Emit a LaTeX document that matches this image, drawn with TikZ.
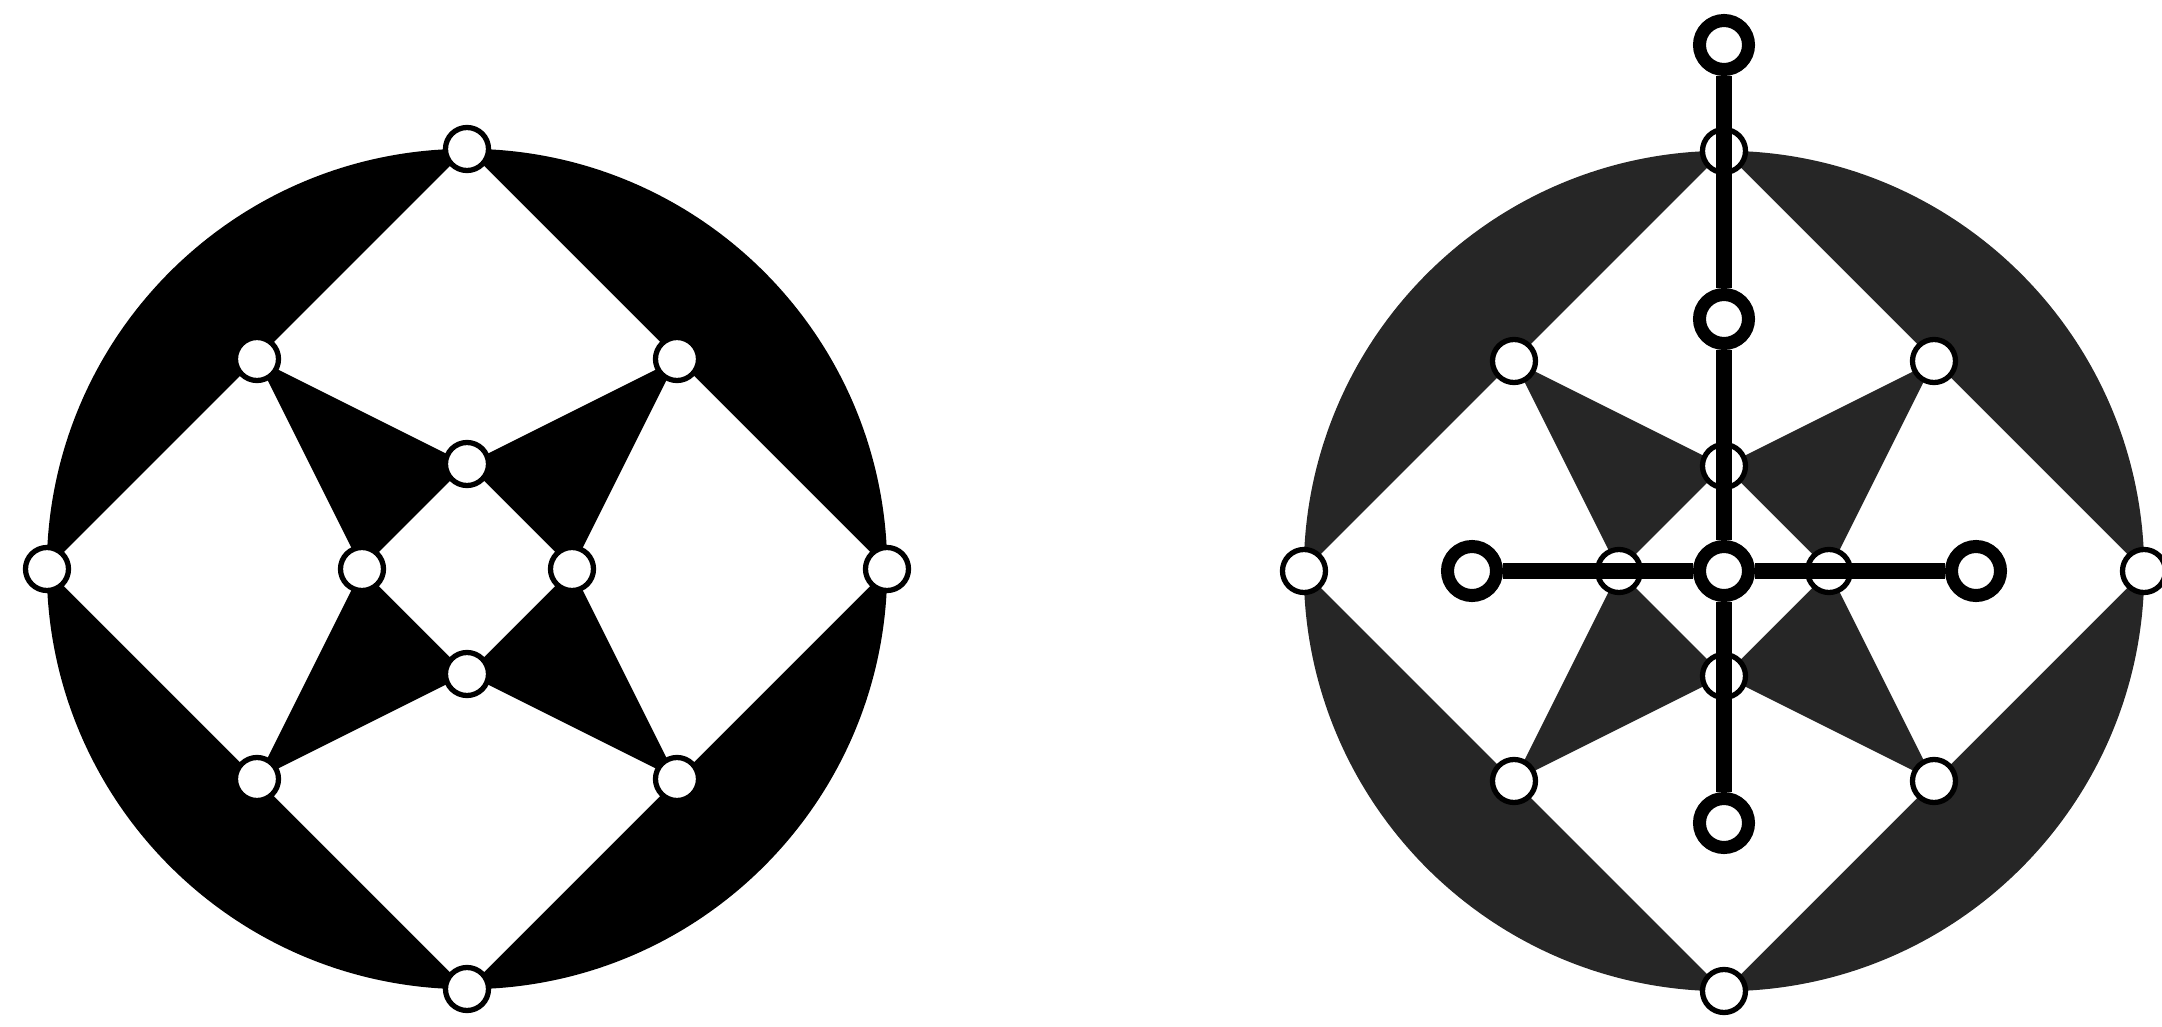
\documentclass[tikz,border=0pt]{standalone}
\usetikzlibrary{calc,backgrounds}

\begin{document}
\begin{tikzpicture}[
  x=0.01cm, y=-0.01cm,
  vtx/.style={circle, draw, fill=white, line width=1.5pt, minimum size=0.43cm, inner sep=0pt},
  hub/.style={circle, draw, fill=white, line width=3.7pt, minimum size=0.49cm, inner sep=0pt},
  bar/.style={line width=4.8pt},
  shade/.style={fill=black!85}
]
\useasboundingbox (0,0) rectangle (2162,1027);

% left wheel
\coordinate (L) at (467,569);
\node[vtx] (lN) at ($(L)+(0,-420)$) {};
\node[vtx] (lE) at ($(L)+(420,0)$) {};
\node[vtx] (lS) at ($(L)+(0,420)$) {};
\node[vtx] (lW) at ($(L)+(-420,0)$) {};
\node[vtx] (lNW) at ($(L)+(-210,-210)$) {};
\node[vtx] (lNE) at ($(L)+(210,-210)$) {};
\node[vtx] (lSE) at ($(L)+(210,210)$) {};
\node[vtx] (lSW) at ($(L)+(-210,210)$) {};
\node[vtx] (liN) at ($(L)+(0,-105)$) {};
\node[vtx] (liE) at ($(L)+(105,0)$) {};
\node[vtx] (liS) at ($(L)+(0,105)$) {};
\node[vtx] (liW) at ($(L)+(-105,0)$) {};

% right wheel
\coordinate (R) at (1724,571);
\node[vtx] (rN) at ($(R)+(0,-420)$) {};
\node[vtx] (rE) at ($(R)+(420,0)$) {};
\node[vtx] (rS) at ($(R)+(0,420)$) {};
\node[vtx] (rW) at ($(R)+(-420,0)$) {};
\node[vtx] (rNW) at ($(R)+(-210,-210)$) {};
\node[vtx] (rNE) at ($(R)+(210,-210)$) {};
\node[vtx] (rSE) at ($(R)+(210,210)$) {};
\node[vtx] (rSW) at ($(R)+(-210,210)$) {};
\node[vtx] (riN) at ($(R)+(0,-105)$) {};
\node[vtx] (riE) at ($(R)+(105,0)$) {};
\node[vtx] (riS) at ($(R)+(0,105)$) {};
\node[vtx] (riW) at ($(R)+(-105,0)$) {};

% cross on the right wheel
\node[hub] (cTop) at ($(R)+(0,-526)$) {};
\node[hub] (cUp) at ($(R)+(0,-252)$) {};
\node[hub] (cMid) at (R) {};
\node[hub] (cDown) at ($(R)+(0,252)$) {};
\node[hub] (cLeft) at ($(R)+(-252,0)$) {};
\node[hub] (cRight) at ($(R)+(252,0)$) {};

\draw[bar] (cTop) -- (cUp) -- (cMid) -- (cDown);
\draw[bar] (cLeft) -- (cMid) -- (cRight);

% filled regions
\begin{pgfonlayer}{background}
  \fill (L) circle (4.2cm);
  \fill[white] (lN.center) -- (lE.center) -- (lS.center) -- (lW.center) -- cycle;
  \fill (lNW.center) -- (liN.center) -- (lNE.center) -- (liE.center) -- (lSE.center) -- (liS.center) -- (lSW.center) -- (liW.center) -- cycle;
  \fill[white] (liN.center) -- (liE.center) -- (liS.center) -- (liW.center) -- cycle;

  \path[shade] (R) circle (4.2cm);
  \fill[white] (rN.center) -- (rE.center) -- (rS.center) -- (rW.center) -- cycle;
  \path[shade] (rNW.center) -- (riN.center) -- (rNE.center) -- (riE.center) -- (rSE.center) -- (riS.center) -- (rSW.center) -- (riW.center) -- cycle;
  \fill[white] (riN.center) -- (riE.center) -- (riS.center) -- (riW.center) -- cycle;
\end{pgfonlayer}

\end{tikzpicture}
\end{document}
